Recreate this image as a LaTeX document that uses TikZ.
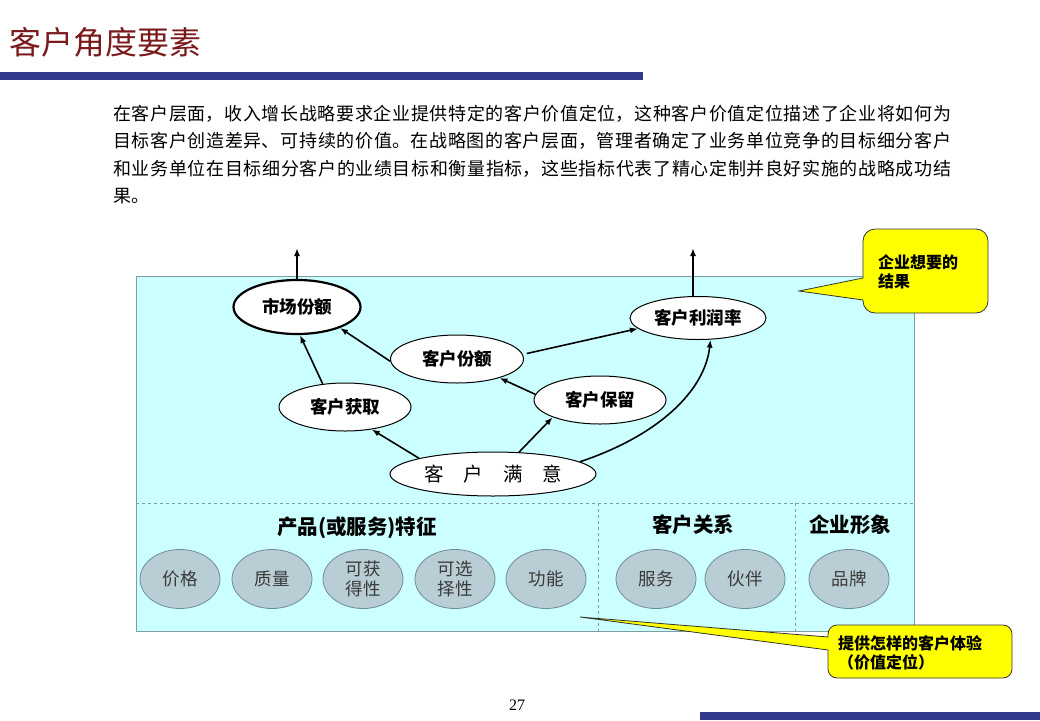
\documentclass[tikz,border=0pt]{standalone}
\usepackage{fontspec}
\setmainfont{Noto Sans CJK SC}
\newfontfamily\pagefont{Liberation Serif}
\usetikzlibrary{arrows.meta,shapes.geometric}
\XeTeXlinebreaklocale "zh"
\XeTeXlinebreakskip=0pt plus 3pt
\definecolor{Wine}{HTML}{7A1A1A}
\definecolor{Navy}{HTML}{333A8C}
\definecolor{Aqua}{HTML}{CCFFFF}
\definecolor{AquaEdge}{HTML}{7F9F9F}
\definecolor{Slate}{HTML}{B9CDD5}
\definecolor{SlateEdge}{HTML}{6F8C99}
\definecolor{TextGray}{HTML}{3A3A3A}
\definecolor{Lemon}{HTML}{FFFF00}

\begin{document}
\begin{tikzpicture}[x=1pt,y=-1pt,
    goal/.style={ellipse,draw=black,fill=white,line width=1pt,inner sep=0pt,
      minimum width=132pt,minimum height=48pt,font=\bfseries\fontsize{17.5}{20}\selectfont},
    trait/.style={ellipse,draw=SlateEdge,fill=Slate,line width=0.8pt,inner sep=0pt,
      minimum width=80pt,minimum height=59pt,align=center,text=TextGray,
      font=\fontsize{17.5}{20}\selectfont},
    head/.style={font=\bfseries\fontsize{20.5}{24}\selectfont},
    link/.style={line width=1.6pt,-{Latex[length=8pt,width=6pt]}},
    note/.style={draw=black!80,fill=Lemon,line width=0.8pt},
    notetext/.style={align=left,inner sep=0pt,font=\bfseries\fontsize{16}{19}\selectfont}]
    \useasboundingbox (0,0) rectangle (1040,720);
    % page frame
    \node[anchor=west,inner sep=0pt,text=Wine,font=\fontsize{32}{36}\selectfont]
      (title) at (9,42) {客户角度要素};
    \fill[Navy] (0,72) rectangle (643,80);
    \fill[Navy] (700,712) rectangle (1040,720);
    \node[font=\pagefont\fontsize{16}{18}\selectfont] (page) at (517,705) {27};
    \node[anchor=north west,inner sep=0pt,text width=838pt,align=justify,
      font=\fontsize{18}{27.3}\selectfont] (intro) at (113,105)
      {\parindent=0pt{\parfillskip=0pt\relax
       在客户层面，收入增长战略要求企业提供特定的客户价值定位，这种客户价值定位描述了企业将如何为\par
       目标客户创造差异、可持续的价值。在战略图的客户层面，管理者确定了业务单位竞争的目标细分客户\par
       和业务单位在目标细分客户的业绩目标和衡量指标，这些指标代表了精心定制并良好实施的战略成功结\par}果。};
    % panel
    \draw[AquaEdge,fill=Aqua,line width=1pt] (136,276) rectangle (914,631);
    \draw[dashed,AquaEdge] (136,503) -- (914,503);
    \draw[dashed,AquaEdge] (598,503) -- (598,631);
    \draw[dashed,AquaEdge] (795,503) -- (795,631);
    % outcomes
    \node[goal,line width=2.2pt,minimum width=127pt,minimum height=54pt] (share) at (297,307) {市场份额};
    \node[goal,minimum width=136pt,minimum height=43pt] (profit) at (698,318) {客户利润率};
    \node[goal,minimum width=133pt] (wallet) at (457,359) {客户份额};
    \node[goal] (gain) at (345,407) {客户获取};
    \node[goal] (keep) at (600,400) {客户保留};
    \node[goal,minimum width=206pt,minimum height=44pt,font=\fontsize{19.5}{22}\selectfont]
      (satis) at (493,474) {客\hspace{20pt}户\hspace{20pt}满\hspace{20pt}意};
    \coordinate (shareout) at (297,248);
    \coordinate (profitout) at (693,248);
    \draw[link] (share.north) -- (shareout);
    \draw[link] (profitout |- profit.north) -- (profitout);
    \draw[link] (wallet.182) -- (share.-26);
    \draw[link] (gain.134) -- (share.-84);
    \draw[link] (keep.175) -- (wallet.-24);
    \draw[link] (satis.168) -- (gain.-40);
    \draw[link] (satis.40) -- (keep.200);
    \draw[link,shorten <=4pt] (wallet.4) -- (profit.190);
    \draw[link] (satis.8) .. controls (660,435) and (705,390) .. (profit.-60);
    % drivers
    \node[head] (product) at (357,528) {产品(或服务)特征};
    \node[head] (relation) at (693,525) {客户关系};
    \node[head] (image) at (850,525) {企业形象};
    \foreach \x/\lab/\nm in {180/价格/price,272/质量/quality,363/{可获\\得性}/reach,
      455/{可选\\择性}/choice,546/功能/feature,656/服务/service,745/伙伴/partner,849/品牌/brand}
      {
        \node[trait] (\nm) at (\x,579) {\lab};
      }
    % callouts
    \draw[note] (799,291) -- (863,278) [rounded corners=12pt] -- (863,229) -- (988,229)
      -- (988,313) -- (863,313) [sharp corners] -- (863,300) -- cycle;
    \node[notetext,anchor=west] (wish) at (878,272) {企业想要的\\结果};
    \draw[note] (580,617) -- (828,637) [rounded corners=9pt] -- (828,625) -- (1012,625)
      -- (1012,678) -- (828,678) [sharp corners] -- (828,650) -- cycle;
    \node[notetext,anchor=west] (value) at (838,653)
      {提供怎样的客户体验\\（价值定位）};
  \end{tikzpicture}
\end{document}
